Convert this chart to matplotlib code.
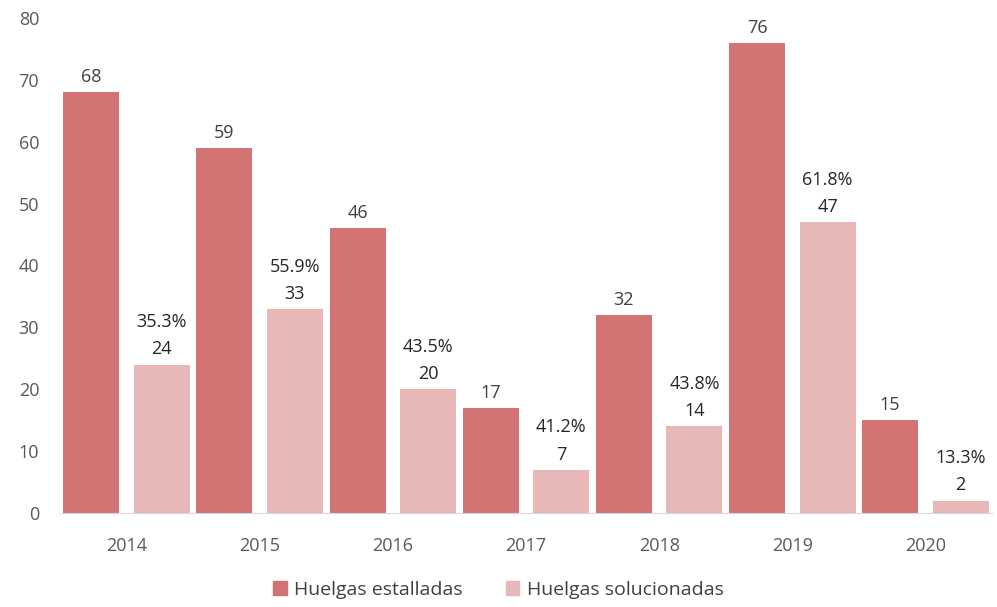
import numpy as np
import matplotlib.pyplot as plt
from matplotlib.patches import Patch

# Data
years = ['2014', '2015', '2016', '2017', '2018', '2019', '2020']
estalladas = [68, 59, 46, 17, 32, 76, 15]
solucionadas = [24, 33, 20, 7, 14, 47, 2]
porcentajes = ['35.3%', '55.9%', '43.5%', '41.2%', '43.8%', '61.8%', '13.3%']

dark = '#D07372'
light = '#E8B7B7'

plt.rcParams['font.family'] = ['Open Sans', 'DejaVu Sans']

fig = plt.figure(figsize=(9.97, 6.07), dpi=100)
ax = fig.add_axes([60 / 997, 94 / 607, 932 / 997, 495 / 607])

x = np.arange(len(years))
w = 0.42
b1 = ax.bar(x - 0.265, estalladas, w, color=dark)
b2 = ax.bar(x + 0.265, solucionadas, w, color=light)

# value labels
for bar, v in zip(b1, estalladas):
    ax.text(bar.get_x() + bar.get_width() / 2, v + 1, str(v),
            ha='center', va='bottom', fontsize=13, color='#404040')
for bar, v, p in zip(b2, solucionadas, porcentajes):
    ax.text(bar.get_x() + bar.get_width() / 2, v + 1, f'{p}\n{v}',
            ha='center', va='bottom', fontsize=13, color='#262626',
            linespacing=1.65)

ax.set_xlim(-0.5, len(years) - 0.5)
ax.set_ylim(0, 80)
ax.set_yticks(range(0, 81, 10))
ax.set_xticks(x)
ax.set_xticklabels(years)
ax.tick_params(axis='both', length=0, labelsize=13, colors='#595959')
ax.tick_params(axis='x', pad=17)
ax.tick_params(axis='y', pad=15)

for s in ['top', 'right', 'left']:
    ax.spines[s].set_visible(False)
ax.spines['bottom'].set_color('#D9D9D9')

handles = [Patch(color=dark, label='Huelgas estalladas'),
           Patch(color=light, label='Huelgas solucionadas')]
fig.legend(handles=handles, loc='center', bbox_to_anchor=(0.5, 17 / 607),
           ncol=2, frameon=False, fontsize=14, handlelength=0.7,
           handleheight=0.7, columnspacing=2.2, handletextpad=0.4,
           labelcolor='#404040')

fig.savefig('out.png', dpi=100)
